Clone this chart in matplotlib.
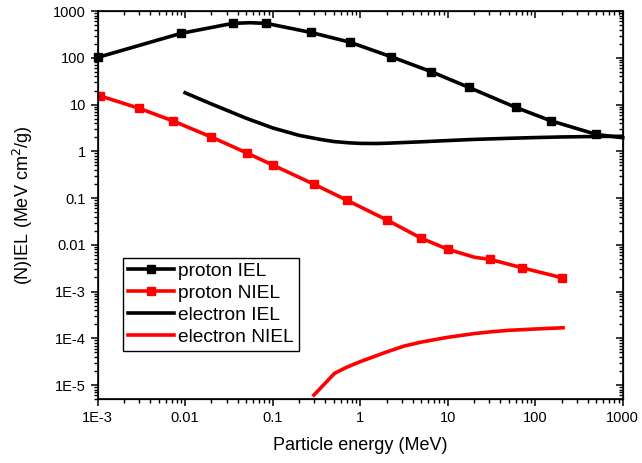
import matplotlib
matplotlib.use("Agg")
import matplotlib.pyplot as plt
from matplotlib.ticker import LogLocator, FixedLocator, FixedFormatter, NullFormatter

plt.rcParams['font.family'] = ['Liberation Sans', 'DejaVu Sans']

# --- data ---
p_iel_e = [0.001, 0.0089, 0.0348, 0.055, 0.085, 0.273, 0.76, 2.28, 6.53, 17.5, 60, 151, 500, 1000]
p_iel_v = [102, 333, 546, 565, 546, 350, 217, 105, 50.4, 23.3, 8.7, 4.5, 2.3, 1.95]
p_iel_marks = [0, 1, 2, 4, 5, 6, 7, 8, 9, 10, 11, 12]

p_niel_e = [0.00106, 0.0030, 0.0072, 0.020, 0.051, 0.10, 0.30, 0.70, 2.03, 5.02, 10.1, 20.4, 30.3, 70.8, 203]
p_niel_v = [15.4, 8.3, 4.5, 2.02, 0.92, 0.51, 0.196, 0.0906, 0.0338, 0.01374, 0.0080, 0.0054, 0.00489, 0.00323, 0.00197]
p_niel_marks = [0, 1, 2, 3, 4, 5, 6, 7, 8, 9, 10, 12, 13, 14]

e_iel_e = [0.01, 0.02, 0.05, 0.1, 0.2, 0.35, 0.5, 0.75, 1, 1.5, 2, 5, 10, 20, 50, 100, 200, 500, 1000]
e_iel_v = [17.9, 10.3, 5.1, 3.17, 2.2, 1.8, 1.62, 1.52, 1.48, 1.47, 1.49, 1.6, 1.7, 1.8, 1.9, 1.97, 2.03, 2.08, 2.1]

e_niel_e = [0.296, 0.51, 0.7, 1.0, 2.0, 3.16, 5.0, 10, 20, 31.6, 50, 100, 208]
e_niel_v = [6.1e-6, 1.78e-5, 2.4e-5, 3.16e-5, 5.1e-5, 6.8e-5, 8.3e-5, 1.05e-4, 1.26e-4, 1.38e-4, 1.48e-4, 1.58e-4, 1.68e-4]

x_ticks = [1e-3, 1e-2, 1e-1, 1, 10, 100, 1000]
x_labels = ["1E-3", "0.01", "0.1", "1", "10", "100", "1000"]
y_ticks = [1e-5, 1e-4, 1e-3, 1e-2, 1e-1, 1, 10, 100, 1000]
y_labels = ["1E-5", "1E-4", "1E-3", "0.01", "0.1", "1", "10", "100", "1000"]

fig = plt.figure(figsize=(6.42, 4.63), dpi=100)
ax = fig.add_axes([0.152, 0.138, 0.818, 0.838])

lw = 2.6
ax.plot(p_iel_e, p_iel_v, color='black', lw=lw, marker='s', ms=6.3,
        markevery=p_iel_marks, label='proton IEL', clip_on=False, zorder=3)
ax.plot(p_niel_e, p_niel_v, color='red', lw=lw, marker='s', ms=6.3,
        markevery=p_niel_marks, label='proton NIEL', zorder=3)
ax.plot(e_iel_e, e_iel_v, color='black', lw=lw, label='electron IEL', zorder=2)
ax.plot(e_niel_e, e_niel_v, color='red', lw=lw, label='electron NIEL', zorder=2)

ax.set_xscale('log')
ax.set_yscale('log')
ax.set_xlim(1e-3, 1000)
ax.set_ylim(5e-6, 1000)

ax.xaxis.set_major_locator(FixedLocator(x_ticks))
ax.xaxis.set_major_formatter(FixedFormatter(x_labels))
ax.yaxis.set_major_locator(FixedLocator(y_ticks))
ax.yaxis.set_major_formatter(FixedFormatter(y_labels))
for axis in (ax.xaxis, ax.yaxis):
    axis.set_minor_locator(LogLocator(base=10, subs=range(2, 10), numticks=20))
    axis.set_minor_formatter(NullFormatter())

ax.tick_params(which='major', direction='out', length=5, width=1.1, labelsize=10.5)
ax.tick_params(which='minor', direction='out', length=3, width=1.0)
for s in ax.spines.values():
    s.set_linewidth(1.2)

# mirrored ticks on top / right, pointing inward
axt = ax.twiny()
axt.set_xscale('log')
axt.set_xlim(ax.get_xlim())
axt.xaxis.set_major_locator(FixedLocator(x_ticks))
axt.xaxis.set_minor_locator(LogLocator(base=10, subs=range(2, 10), numticks=20))
axt.tick_params(which='both', direction='in', labeltop=False)
axt.tick_params(which='major', length=5, width=1.1)
axt.tick_params(which='minor', length=3, width=1.0)
axr = ax.twinx()
axr.set_yscale('log')
axr.set_ylim(ax.get_ylim())
axr.yaxis.set_major_locator(FixedLocator(y_ticks))
axr.yaxis.set_minor_locator(LogLocator(base=10, subs=range(2, 10), numticks=20))
axr.tick_params(which='both', direction='in', labelright=False)
axr.tick_params(which='major', length=5, width=1.1)
axr.tick_params(which='minor', length=3, width=1.0)

ax.set_xlabel("Particle energy (MeV)", fontsize=13, labelpad=9)
ax.set_ylabel("(N)IEL (MeV cm$^2$/g)", fontsize=13, labelpad=13)

leg = ax.legend(loc='lower left', bbox_to_anchor=(0.048, 0.124), fontsize=13.8,
                frameon=True, fancybox=False, edgecolor='black', framealpha=1,
                borderpad=0.25, labelspacing=0.24, handlelength=2.4,
                handletextpad=0.25, borderaxespad=0)
leg.get_frame().set_linewidth(1.0)
leg.set_zorder(5)

fig.savefig("out.png", dpi=100)
